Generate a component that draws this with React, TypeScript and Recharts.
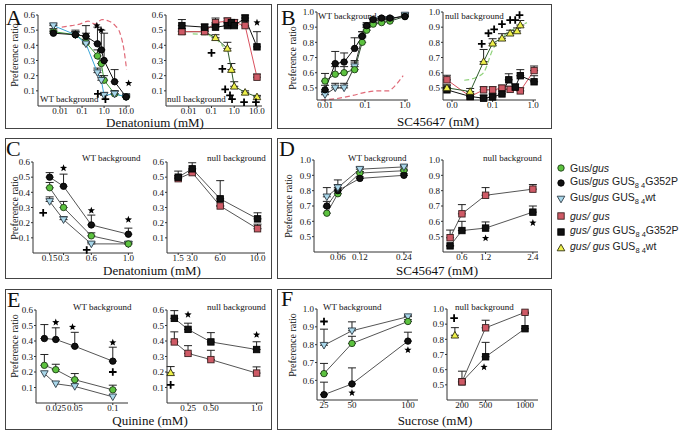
import { ComposedChart, Line, XAxis, YAxis, ErrorBar } from "recharts"

const SERIF = "'Liberation Serif', 'Times New Roman', serif"
const SANS = "'Liberation Sans', Arial, sans-serif"

// ---------- A: denatonium (log dose)
const aDose = [0.005, 0.05, 0.15, 0.5, 0.75, 1.0, 3.0, 10.0]
const aWtGus = [0.49, 0.47, 0.42, 0.33, 0.28, 0.17, 0.08, 0.06]
const aWtGusErr = [0.02, 0.02, 0.06, 0.04, 0.03, 0.03, 0.02, 0.01]
const aWtG352P = [0.48, 0.47, 0.46, 0.41, 0.37, 0.3, 0.16, 0.06]
const aWtG352PErr = [0.02, 0.03, 0.07, 0.11, 0.13, 0.18, 0.08, 0.02]
const aWtWt = [0.53, 0.47, 0.41, 0.22, 0.17, 0.07, 0.08, 0.06]
const aWtWtErr = [0.01, 0.02, 0.03, 0.03, 0.03, 0.02, 0.02, 0.01]
const aWtRefX = [0.012, 0.034, 0.08, 0.19, 0.39, 0.8, 1.6, 3.2, 5.3, 8, 10.5]
const aWtRefY = [0.52, 0.53, 0.54, 0.56, 0.54, 0.57, 0.56, 0.53, 0.48, 0.37, 0.24]
const aWtStarX = [0.47, 0.73, 13]
const aWtStarY = [0.53, 0.5, 0.15]
const aWtPlusX = [0.52, 1.15]
const aWtPlusY = [0.08, 0.045]

const aNullGus = [0.49, 0.49, 0.55, 0.56, 0.54, 0.55, 0.53, 0.19]
const aNullGusErr = [0.02, 0.02, 0.03, 0.02, 0.02, 0.02, 0.03, 0.02]
const aNullG352P = [0.53, 0.52, 0.52, 0.53, 0.55, 0.53, 0.58, 0.39]
const aNullG352PErr = [0.04, 0.02, 0.02, 0.02, 0.02, 0.02, 0.02, 0.1]
const aNullWt = [0.49, 0.49, 0.45, 0.38, 0.24, 0.13, 0.09, 0.06]
const aNullWtErr = [0.01, 0.01, 0.02, 0.04, 0.04, 0.03, 0.01, 0.01]
const aNullRefX = [0.015, 0.05, 0.12, 0.33]
const aNullRefY = [0.475, 0.47, 0.455, 0.39]
const aNullPlusX = [0.1, 0.3, 0.4, 0.65, 0.8, 2.7, 9]
const aNullPlusY = [0.35, 0.245, 0.11, 0.07, 0.045, 0.025, 0.025]
const aNullStarX = [10]
const aNullStarY = [0.55]

// ---------- B: SC45647 (log dose)
const bDose = [0.01, 0.018, 0.03, 0.055, 0.085, 0.11, 0.16, 0.26, 0.42, 1.0]
const bWtGus = [0.545, 0.59, 0.6, 0.62, 0.8, 0.88, 0.92, 0.93, 0.94, 0.97]
const bWtGusErr = [0.05, 0.05, 0.04, 0.05, 0.04, 0.02, 0.01, 0.01, 0.01, 0.01]
const bWtG352P = [0.487, 0.66, 0.67, 0.76, 0.84, 0.91, 0.95, 0.96, 0.96, 0.97]
const bWtG352PErr = [0.03, 0.08, 0.06, 0.07, 0.03, 0.02, 0.01, 0.01, 0.01, 0.01]
const bWtWt = [0.455, 0.5, 0.5, 0.64, 0.83, 0.9, 0.94, 0.95, 0.95, 0.98]
const bWtWtErr = [0.02, 0.03, 0.03, 0.04, 0.04, 0.02, 0.01, 0.01, 0.01, 0.01]
const bWtRefX = [0.008, 0.02, 0.05, 0.1, 0.2, 0.4, 0.5, 0.9]
const bWtRefY = [0.42, 0.43, 0.45, 0.47, 0.48, 0.48, 0.5, 0.58]

const bNullWtX = [0.0075, 0.028, 0.06, 0.1, 0.17, 0.27, 0.4, 0.48]
const bNullWt = [0.5, 0.476, 0.673, 0.794, 0.827, 0.86, 0.875, 0.914]
const bNullWtErr = [0.02, 0.02, 0.08, 0.03, 0.03, 0.02, 0.02, 0.03]
const bNullG352PX = [0.0075, 0.028, 0.06, 0.1, 0.17, 0.25, 0.36, 0.48, 1.05]
const bNullG352P = [0.487, 0.443, 0.432, 0.44, 0.46, 0.553, 0.505, 0.58, 0.54]
const bNullG352PErr = [0.03, 0.02, 0.02, 0.02, 0.03, 0.04, 0.02, 0.04, 0.04]
const bNullGusX = [0.0075, 0.028, 0.06, 0.1, 0.17, 0.27, 0.48, 1.05]
const bNullGus = [0.553, 0.443, 0.487, 0.487, 0.498, 0.49, 0.48, 0.614]
const bNullGusErr = [0.03, 0.02, 0.02, 0.02, 0.02, 0.02, 0.02, 0.03]
const bNullRefX = [0.02, 0.04, 0.06, 0.1, 0.2, 0.35, 0.7]
const bNullRefY = [0.55, 0.57, 0.6, 0.75, 0.85, 0.89, 0.93]
const bNullPlusX = [0.054, 0.079, 0.109, 0.17, 0.27, 0.36, 0.46]
const bNullPlusY = [0.79, 0.86, 0.886, 0.92, 0.947, 0.947, 0.98]

// ---------- C: denatonium
const cDose = [0.15, 0.3, 0.6, 1.0]
const cWtG352P = [0.5, 0.44, 0.185, 0.124]
const cWtG352PErr = [0.03, 0.08, 0.065, 0.04]
const cWtGus = [0.43, 0.3, 0.113, 0.06]
const cWtGusErr = [0.035, 0.04, 0.02, 0.015]
const cWtWt = [0.34, 0.22, 0.06, 0.06]
const cWtWtErr = [0.03, 0.02, 0.01, 0.01]
const cWtStarX = [0.3, 0.6, 1.0]
const cWtStarY = [0.56, 0.28, 0.22]
const cWtPlusX = [0.08, 0.55]
const cWtPlusY = [0.265, 0.02]

const cNullDose = [1.5, 3.0, 6.0, 10.0]
const cNullG352P = [0.5, 0.555, 0.357, 0.225]
const cNullG352PErr = [0.04, 0.04, 0.12, 0.04]
const cNullGus = [0.49, 0.53, 0.31, 0.16]
const cNullGusErr = [0.02, 0, 0, 0.03]

// ---------- D: SC45647
const dDose = [0.03, 0.06, 0.12, 0.24]
const dWtWt = [0.76, 0.82, 0.94, 0.955]
const dWtWtErr = [0.06, 0.02, 0.01, 0.01]
const dWtG352P = [0.7, 0.8, 0.88, 0.9]
const dWtG352PErr = [0.03, 0.07, 0.01, 0.01]
const dWtGus = [0.653, 0.78, 0.915, 0.93]
const dWtGusErr = [0.04, 0.03, 0.01, 0.01]

const dNullDose = [0.3, 0.6, 1.2, 2.4]
const dNullGus = [0.493, 0.649, 0.77, 0.81]
const dNullGusErr = [0.05, 0.06, 0.05, 0.03]
const dNullG352P = [0.44, 0.54, 0.556, 0.66]
const dNullG352PErr = [0, 0.06, 0.04, 0.04]
const dNullStarX = [1.2, 2.4]
const dNullStarY = [0.49, 0.59]

// ---------- E: quinine
const eDose = [0.01, 0.025, 0.05, 0.1]
const eWtG352P = [0.416, 0.41, 0.366, 0.27]
const eWtG352PErr = [0.09, 0.075, 0.09, 0.09]
const eWtGus = [0.243, 0.215, 0.15, 0.085]
const eWtGusErr = [0.07, 0.035, 0.04, 0.03]
const eWtWt = [0.19, 0.124, 0.107, 0.04]
const eWtStarX = [0.025, 0.047, 0.1]
const eWtStarY = [0.52, 0.49, 0.39]
const eWtPlusX = [0.1]
const eWtPlusY = [0.2]

const eNullDose = [0.1, 0.25, 0.5, 1.0]
const eNullG352P = [0.546, 0.475, 0.394, 0.345]
const eNullG352PErr = [0.05, 0.04, 0.06, 0.05]
const eNullGus = [0.394, 0.32, 0.28, 0.193]
const eNullGusErr = [0.065, 0.05, 0.06, 0.04]
const eNullWtX = [0.06]
const eNullWt = [0.195]
const eNullWtErr = [0.04]
const eNullPlusX = [0.06]
const eNullPlusY = [0.117]
const eNullStarX = [0.25, 1.0]
const eNullStarY = [0.57, 0.44]

// ---------- F: sucrose
const fDose = [25, 50, 100]
const fWtWt = [0.797, 0.878, 0.957]
const fWtWtErr = [0.09, 0.05, 0.005]
const fWtGus = [0.638, 0.807, 0.93]
const fWtGusErr = [0.057, 0.04, 0.01]
const fWtG352P = [0.52, 0.58, 0.82]
const fWtG352PErr = [0.07, 0.09, 0.05]
const fWtPlusX = [25]
const fWtPlusY = [0.93]
const fWtStarX = [50, 100]
const fWtStarY = [0.53, 0.77]

const fNullDose = [200, 500, 1000]
const fNullGus = [0.52, 0.876, 0.978]
const fNullGusErr = [0, 0.05, 0]
const fNullG352P = [0.52, 0.685, 0.87]
const fNullG352PErr = [0.07, 0.095, 0.1]
const fNullWtX = [110]
const fNullWt = [0.827]
const fNullWtErr = [0.05]
const fNullPlusX = [100]
const fNullPlusY = [0.94]
const fNullStarX = [480]
const fNullStarY = [0.617]

const ratioTicks06 = [0.1, 0.2, 0.3, 0.4, 0.5, 0.6]
const ratioTicks10 = [0.5, 0.6, 0.7, 0.8, 0.9, 1.0]
const ratioTicksF = [0.6, 0.7, 0.8, 0.9, 1.0]

type Kind = "gCircle" | "bCircle" | "triDown" | "rSquare" | "bSquare" | "triUp" | "star" | "plus"

function Marker({ kind, cx, cy }: { kind: Kind; cx: number; cy: number }) {
  switch (kind) {
    case "gCircle":
      return <circle cx={cx} cy={cy} r={3.2} fill="#5cc23f" stroke="#1e3b17" strokeWidth={0.9} />
    case "bCircle":
      return <circle cx={cx} cy={cy} r={3.2} fill="#111" stroke="#000" strokeWidth={0.9} />
    case "triDown":
      return (
        <polygon
          points={`${cx - 3.8},${cy - 2.8} ${cx + 3.8},${cy - 2.8} ${cx},${cy + 3.8}`}
          fill="#a9d7ea"
          stroke="#2d3a44"
          strokeWidth={0.9}
        />
      )
    case "rSquare":
      return <rect x={cx - 3.2} y={cy - 3.2} width={6.4} height={6.4} fill="#cf5a66" stroke="#3a2020" strokeWidth={0.9} />
    case "bSquare":
      return <rect x={cx - 3.2} y={cy - 3.2} width={6.4} height={6.4} fill="#111" stroke="#000" strokeWidth={0.9} />
    case "triUp":
      return (
        <polygon
          points={`${cx - 3.8},${cy + 2.8} ${cx + 3.8},${cy + 2.8} ${cx},${cy - 3.8}`}
          fill="#eef04a"
          stroke="#2e2e10"
          strokeWidth={0.9}
        />
      )
    case "star": {
      const p: string[] = []
      for (let i = 0; i < 10; i++) {
        const r = i % 2 === 0 ? 3.8 : 1.6
        const a = -Math.PI / 2 + (i * Math.PI) / 5
        p.push(`${cx + r * Math.cos(a)},${cy + r * Math.sin(a)}`)
      }
      return <polygon points={p.join(" ")} fill="#000" />
    }
    case "plus":
      return <path d={`M${cx - 3.8},${cy}H${cx + 3.8}M${cx},${cy - 3.8}V${cy + 3.8}`} stroke="#000" strokeWidth={1.8} />
  }
}

const dot = (kind: Kind) => (p: any) => {
  const k = `d${p.index}`
  if (p.cx == null || p.cy == null || Number.isNaN(p.cx) || Number.isNaN(p.cy)) return <g key={k} />
  return (
    <g key={k}>
      <Marker kind={kind} cx={p.cx} cy={p.cy} />
    </g>
  )
}

const pts = (xs: number[], ys: number[], es?: number[] | null) =>
  xs.map((x, i) => ({ x, y: ys[i], e: [0, es ? es[i] : 0] }))

function series(key: string, xs: number[], ys: number[], errs: number[] | null, kind: Kind, stroke: string) {
  return (
    <Line
      key={key}
      data={pts(xs, ys, errs)}
      dataKey="y"
      type="linear"
      stroke={stroke}
      strokeWidth={1}
      dot={dot(kind)}
      activeDot={false}
      legendType="none"
      isAnimationActive={false}
    >
      {errs && <ErrorBar dataKey="e" width={4} strokeWidth={1} stroke="#222" direction="y" />}
    </Line>
  )
}

function marks(key: string, xs: number[], ys: number[], kind: Kind) {
  return (
    <Line
      key={key}
      data={pts(xs, ys)}
      dataKey="y"
      stroke="none"
      dot={dot(kind)}
      activeDot={false}
      legendType="none"
      isAnimationActive={false}
    />
  )
}

function dashed(key: string, xs: number[], ys: number[], stroke: string) {
  return (
    <Line
      key={key}
      data={pts(xs, ys)}
      dataKey="y"
      type="monotone"
      stroke={stroke}
      strokeWidth={1.2}
      strokeDasharray="5 3"
      dot={false}
      activeDot={false}
      legendType="none"
      isAnimationActive={false}
    />
  )
}

interface PlotProps {
  r: [number, number, number, number]
  xScale: "log" | "linear"
  xDomain: [number, number]
  xTicks: number[]
  xLabels: string[]
  yDomain: [number, number]
  yTicks: number[]
  children: any
}

const PAD_L = 34
const PAD_R = 6
const PAD_T = 6
const PAD_B = 20

function Plot({ r, xScale, xDomain, xTicks, xLabels, yDomain, yTicks, children }: PlotProps) {
  const [x0, y0, x1, y1] = r
  const tickStyle = { fontSize: 9, fontFamily: SERIF, fill: "#111" }
  return (
    <div style={{ position: "absolute", left: x0 - PAD_L, top: y0 - PAD_T }}>
      <ComposedChart
        width={x1 - x0 + PAD_L + PAD_R}
        height={y1 - y0 + PAD_T + PAD_B}
        margin={{ top: PAD_T, right: PAD_R, bottom: 0, left: 0 }}
      >
        <XAxis
          type="number"
          dataKey="x"
          scale={xScale}
          domain={xDomain}
          ticks={xTicks}
          interval={0}
          height={PAD_B}
          tickSize={2}
          tickMargin={0}
          tick={tickStyle}
          axisLine={{ stroke: "#333" }}
          tickLine={{ stroke: "#333" }}
          tickFormatter={(v: number) => xLabels[xTicks.findIndex((t) => Math.abs(t - v) < 1e-9)] ?? ""}
        />
        <YAxis
          type="number"
          domain={yDomain}
          ticks={yTicks}
          interval={0}
          width={PAD_L}
          tickSize={2}
          tickMargin={1}
          tick={tickStyle}
          axisLine={{ stroke: "#333" }}
          tickLine={{ stroke: "#333" }}
          tickFormatter={(v: number) => v.toFixed(1)}
        />
        {children}
      </ComposedChart>
    </div>
  )
}

const boxes: [number, number, number, number][] = [
  [5, 4, 272, 129],
  [277, 4, 552, 129],
  [5, 138, 272, 279],
  [277, 138, 552, 279],
  [5, 289, 272, 430],
  [277, 289, 552, 430],
]

const letters: [string, number, number][] = [
  ["A", 6, 25],
  ["B", 281, 25],
  ["C", 6, 156],
  ["D", 279, 156],
  ["E", 7, 307],
  ["F", 281, 306],
]

const ratioLabels: [number, number][] = [
  [14, 55],
  [292, 58],
  [14, 208],
  [288, 206],
  [14, 346],
  [292, 345],
]

const bgLabels: [string, number, number][] = [
  ["WT background", 40, 102],
  ["null background", 167, 102],
  ["WT background", 318, 19],
  ["null background", 445, 19],
  ["WT background", 82, 161],
  ["null background", 207, 161],
  ["WT background", 348, 161],
  ["null background", 483, 161],
  ["WT background", 73, 310],
  ["null background", 207, 310],
  ["WT background", 323, 310],
  ["null background", 455, 310],
]

const axisTitles: [string, number, number][] = [
  ["Denatonium (mM)", 155, 127],
  ["SC45647 (mM)", 438, 126],
  ["Denatonium (mM)", 152, 275],
  ["SC45647 (mM)", 437, 275],
  ["Quinine (mM)", 150, 425],
  ["Sucrose (mM)", 435, 425],
]

const legendKinds: Kind[] = ["gCircle", "bCircle", "triDown", "rSquare", "bSquare", "triUp"]
const legendY = [168, 183, 199, 216, 232, 248]

function LegendLabel({ i }: { i: number }) {
  const it = { fontStyle: "italic" as const }
  const sub = { fontSize: 7.5, verticalAlign: "sub" as const }
  const gus = i < 3 ? <>Gus/<span style={it}>gus</span></> : <span style={it}>gus/ gus</span>
  if (i % 3 === 0) return gus
  return (
    <>
      {gus} GUS<span style={sub}>8 4</span>
      {i % 3 === 1 ? "G352P" : "wt"}
    </>
  )
}

const lineGreen = "#3f9f3a"
const lineCyan = "#3aa6d8"
const lineRed = "#d9505e"
const lineDkGreen = "#2d5a2a"
const lineGray = "#555"

export default function App() {
  const logA = { xScale: "log" as const, xTicks: [0.01, 0.1, 1, 10], xLabels: ["0.01", "0.1", "1.0", "10.0"] }
  return (
    <div style={{ position: "absolute", left: 0, top: 0, width: 683, height: 436, background: "#fff", overflow: "hidden" }}>
      {boxes.map(([l, t, rr, b], i) => (
        <div
          key={i}
          style={{ position: "absolute", left: l, top: t, width: rr - l, height: b - t, border: "1.5px solid #444", boxSizing: "border-box" }}
        />
      ))}

      {/* A */}
      <Plot r={[38, 15, 130, 106]} {...logA} xDomain={[0.001, 15]} yDomain={[0, 0.6]} yTicks={ratioTicks06}>
        {dashed("ref", aWtRefX, aWtRefY, "#e06a78")}
        {series("gus", aDose, aWtGus, aWtGusErr, "gCircle", lineGreen)}
        {series("wt", aDose, aWtWt, aWtWtErr, "triDown", lineCyan)}
        {series("g352p", aDose, aWtG352P, aWtG352PErr, "bCircle", "#111")}
        {marks("star", aWtStarX, aWtStarY, "star")}
        {marks("plus", aWtPlusX, aWtPlusY, "plus")}
      </Plot>
      <Plot r={[166, 15, 262, 106]} {...logA} xDomain={[0.001, 16.6]} yDomain={[0, 0.6]} yTicks={ratioTicks06}>
        {dashed("ref", aNullRefX, aNullRefY, "#8fd27a")}
        {series("wt", aDose, aNullWt, aNullWtErr, "triUp", lineDkGreen)}
        {series("gus", aDose, aNullGus, aNullGusErr, "rSquare", lineRed)}
        {series("g352p", aDose, aNullG352P, aNullG352PErr, "bSquare", "#111")}
        {marks("star", aNullStarX, aNullStarY, "star")}
        {marks("plus", aNullPlusX, aNullPlusY, "plus")}
      </Plot>

      {/* B */}
      <Plot
        r={[317, 12, 408, 100]}
        xScale="log"
        xDomain={[0.0063, 1.19]}
        xTicks={[0.01, 0.1, 1]}
        xLabels={["0.01", "0.1", "1.0"]}
        yDomain={[0.42, 1.0]}
        yTicks={ratioTicks10}
      >
        {dashed("ref", bWtRefX, bWtRefY, "#e06a78")}
        {series("wt", bDose, bWtWt, bWtWtErr, "triDown", "#333")}
        {series("gus", bDose, bWtGus, bWtGusErr, "gCircle", "#2f4f2f")}
        {series("g352p", bDose, bWtG352P, bWtG352PErr, "bCircle", "#111")}
      </Plot>
      <Plot
        r={[443, 12, 536, 100]}
        xScale="log"
        xDomain={[0.006, 1.17]}
        xTicks={[0.01, 0.1, 1]}
        xLabels={["0.0", "0.1", "1.0"]}
        yDomain={[0.42, 1.0]}
        yTicks={ratioTicks10}
      >
        {dashed("ref", bNullRefX, bNullRefY, "#8fd27a")}
        {series("gus", bNullGusX, bNullGus, bNullGusErr, "rSquare", lineRed)}
        {series("g352p", bNullG352PX, bNullG352P, bNullG352PErr, "bSquare", "#111")}
        {series("wt", bNullWtX, bNullWt, bNullWtErr, "triUp", lineDkGreen)}
        {marks("plus", bNullPlusX, bNullPlusY, "plus")}
      </Plot>

      {/* C */}
      <Plot
        r={[33, 162, 133, 253]}
        xScale="linear"
        xDomain={[-0.03, 1.05]}
        xTicks={cDose}
        xLabels={["0.15", "0.3", "0.6", "1.0"]}
        yDomain={[0, 0.6]}
        yTicks={ratioTicks06}
      >
        {series("wt", cDose, cWtWt, cWtWtErr, "triDown", lineGray)}
        {series("gus", cDose, cWtGus, cWtGusErr, "gCircle", lineGray)}
        {series("g352p", cDose, cWtG352P, cWtG352PErr, "bCircle", lineGray)}
        {marks("star", cWtStarX, cWtStarY, "star")}
        {marks("plus", cWtPlusX, cWtPlusY, "plus")}
      </Plot>
      <Plot
        r={[167, 162, 265, 253]}
        xScale="linear"
        xDomain={[0.3, 10.8]}
        xTicks={cNullDose}
        xLabels={["1.5", "3.0", "6.0", "10.0"]}
        yDomain={[0, 0.6]}
        yTicks={ratioTicks06}
      >
        {series("gus", cNullDose, cNullGus, cNullGusErr, "rSquare", lineGray)}
        {series("g352p", cNullDose, cNullG352P, cNullG352PErr, "bSquare", lineGray)}
      </Plot>

      {/* D */}
      <Plot
        r={[314, 160, 412, 252]}
        xScale="linear"
        xDomain={[-0.005, 0.262]}
        xTicks={[0.06, 0.12, 0.24]}
        xLabels={["0.06", "0.12", "0.24"]}
        yDomain={[0.4, 1.0]}
        yTicks={ratioTicks10}
      >
        {series("gus", dDose, dWtGus, dWtGusErr, "gCircle", lineGray)}
        {series("g352p", dDose, dWtG352P, dWtG352PErr, "bCircle", lineGray)}
        {series("wt", dDose, dWtWt, dWtWtErr, "triDown", lineGray)}
      </Plot>
      <Plot
        r={[443, 160, 538, 252]}
        xScale="linear"
        xDomain={[0.12, 2.53]}
        xTicks={[0.6, 1.2, 2.4]}
        xLabels={["0.6", "1.2", "2.4"]}
        yDomain={[0.4, 1.0]}
        yTicks={ratioTicks10}
      >
        {series("gus", dNullDose, dNullGus, dNullGusErr, "rSquare", lineGray)}
        {series("g352p", dNullDose, dNullG352P, dNullG352PErr, "bSquare", lineGray)}
        {marks("star", dNullStarX, dNullStarY, "star")}
      </Plot>

      {/* E */}
      <Plot
        r={[36, 310, 128, 403]}
        xScale="linear"
        xDomain={[-0.001, 0.12]}
        xTicks={[0.025, 0.05, 0.1]}
        xLabels={["0.025", "0.05", "0.1"]}
        yDomain={[0, 0.6]}
        yTicks={ratioTicks06}
      >
        {series("wt", eDose, eWtWt, null, "triDown", lineGray)}
        {series("gus", eDose, eWtGus, eWtGusErr, "gCircle", lineGray)}
        {series("g352p", eDose, eWtG352P, eWtG352PErr, "bCircle", lineGray)}
        {marks("star", eWtStarX, eWtStarY, "star")}
        {marks("plus", eWtPlusX, eWtPlusY, "plus")}
      </Plot>
      <Plot
        r={[167, 310, 263, 403]}
        xScale="linear"
        xDomain={[0.02, 1.07]}
        xTicks={[0.25, 0.5, 1.0]}
        xLabels={["0.25", "0.50", "1.0"]}
        yDomain={[0, 0.6]}
        yTicks={ratioTicks06}
      >
        {series("gus", eNullDose, eNullGus, eNullGusErr, "rSquare", lineGray)}
        {series("g352p", eNullDose, eNullG352P, eNullG352PErr, "bSquare", lineGray)}
        {series("wt", eNullWtX, eNullWt, eNullWtErr, "triUp", lineGray)}
        {marks("plus", eNullPlusX, eNullPlusY, "plus")}
        {marks("star", eNullStarX, eNullStarY, "star")}
      </Plot>

      {/* F */}
      <Plot
        r={[317, 309, 418, 400]}
        xScale="linear"
        xDomain={[18.75, 109]}
        xTicks={fDose}
        xLabels={["25", "50", "100"]}
        yDomain={[0.49, 1.0]}
        yTicks={ratioTicksF}
      >
        {series("wt", fDose, fWtWt, fWtWtErr, "triDown", lineGray)}
        {series("gus", fDose, fWtGus, fWtGusErr, "gCircle", lineGray)}
        {series("g352p", fDose, fWtG352P, fWtG352PErr, "bCircle", lineGray)}
        {marks("plus", fWtPlusX, fWtPlusY, "plus")}
        {marks("star", fWtStarX, fWtStarY, "star")}
      </Plot>
      <Plot
        r={[447, 309, 538, 400]}
        xScale="linear"
        xDomain={[10, 1165]}
        xTicks={fNullDose}
        xLabels={["200", "500", "1000"]}
        yDomain={[0.4, 1.0]}
        yTicks={ratioTicks10}
      >
        {series("g352p", fNullDose, fNullG352P, fNullG352PErr, "bSquare", lineGray)}
        {series("gus", fNullDose, fNullGus, fNullGusErr, "rSquare", lineGray)}
        {series("wt", fNullWtX, fNullWt, fNullWtErr, "triUp", lineGray)}
        {marks("plus", fNullPlusX, fNullPlusY, "plus")}
        {marks("star", fNullStarX, fNullStarY, "star")}
      </Plot>

      {/* panel text */}
      <svg width={683} height={436} style={{ position: "absolute", left: 0, top: 0, pointerEvents: "none" }}>
        {letters.map(([t, x, y]) => (
          <text key={t} x={x} y={y} fontFamily={SERIF} fontSize={22} fill="#111">
            {t}
          </text>
        ))}
        {ratioLabels.map(([x, y], i) => (
          <text
            key={i}
            x={x}
            y={y}
            transform={`rotate(-90 ${x} ${y})`}
            textAnchor="middle"
            dominantBaseline="central"
            fontFamily={SERIF}
            fontSize={10}
            fill="#111"
          >
            Preference ratio
          </text>
        ))}
        {bgLabels.map(([t, x, y], i) => (
          <text key={i} x={x} y={y} fontFamily={SERIF} fontSize={9} fill="#111">
            {t}
          </text>
        ))}
        {axisTitles.map(([t, x, y], i) => (
          <text key={i} x={x} y={y} textAnchor="middle" fontFamily={SERIF} fontSize={13} fill="#111">
            {t}
          </text>
        ))}
      </svg>

      {/* legend */}
      {legendKinds.map((k, i) => (
        <div key={k} style={{ position: "absolute", left: 555, top: legendY[i] - 8, height: 16, display: "flex", alignItems: "center" }}>
          <svg width={13} height={16}>
            <Marker kind={k} cx={6} cy={8} />
          </svg>
          <span style={{ fontFamily: SANS, fontSize: 10.5, color: "#222", marginLeft: 2, whiteSpace: "nowrap" }}>
            <LegendLabel i={i} />
          </span>
        </div>
      ))}
    </div>
  )
}
